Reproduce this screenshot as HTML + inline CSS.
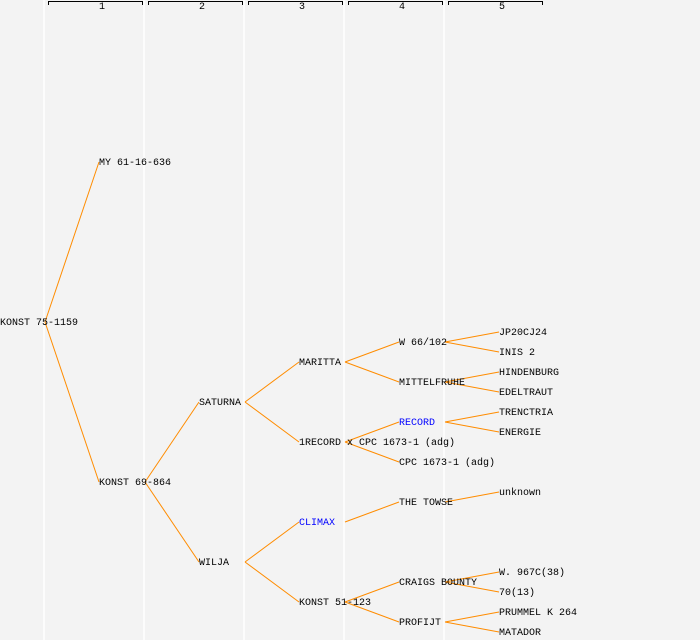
<!DOCTYPE html>
<html><head><style>
html,body{margin:0;padding:0;background:#f3f3f3;}
svg{display:block;}
text{font-family:"Liberation Mono","DejaVu Sans Mono",monospace;font-size:10px;fill:#000;}
</style></head><body>
<svg width="700" height="640" xmlns="http://www.w3.org/2000/svg">
<rect width="700" height="640" fill="#f3f3f3"/>
<g stroke="#fff" stroke-width="1.5">
<line x1="44" y1="0" x2="44" y2="640"/><line x1="144" y1="0" x2="144" y2="640"/>
<line x1="244" y1="0" x2="244" y2="640"/><line x1="344" y1="0" x2="344" y2="640"/>
<line x1="444" y1="0" x2="444" y2="640"/>
</g>
<g stroke="#000" stroke-width="1" fill="none">
<path d="M48.5 5V1.5H142.5V5"/><path d="M148.5 5V1.5H242.5V5"/><path d="M248.5 5V1.5H342.5V5"/><path d="M348.5 5V1.5H442.5V5"/><path d="M448.5 5V1.5H542.5V5"/>
</g>
<g style="font-size:8px" text-anchor="middle">
<text x="102" y="9">1</text><text x="202" y="9">2</text><text x="302" y="9">3</text><text x="402" y="9">4</text><text x="502" y="9">5</text>
</g>
<g stroke="#ff8c00" stroke-width="1" fill="none">
<line x1="45" y1="322" x2="99" y2="162"/><line x1="45" y1="322" x2="99" y2="482"/>
<line x1="145" y1="482" x2="199" y2="402"/><line x1="145" y1="482" x2="199" y2="562"/>
<line x1="245" y1="402" x2="299" y2="362"/><line x1="245" y1="402" x2="299" y2="442"/>
<line x1="245" y1="562" x2="299" y2="522"/><line x1="245" y1="562" x2="299" y2="602"/>
<line x1="345" y1="362" x2="399" y2="342"/><line x1="345" y1="362" x2="399" y2="382"/>
<line x1="345" y1="442" x2="399" y2="422"/><line x1="345" y1="442" x2="399" y2="462"/>
<line x1="345" y1="522" x2="399" y2="502"/>
<line x1="345" y1="602" x2="399" y2="582"/><line x1="345" y1="602" x2="399" y2="622"/>
<line x1="445" y1="342" x2="499" y2="332"/><line x1="445" y1="342" x2="499" y2="352"/>
<line x1="445" y1="382" x2="499" y2="372"/><line x1="445" y1="382" x2="499" y2="392"/>
<line x1="445" y1="422" x2="499" y2="412"/><line x1="445" y1="422" x2="499" y2="432"/>
<line x1="445" y1="502" x2="499" y2="492"/>
<line x1="445" y1="582" x2="499" y2="572"/><line x1="445" y1="582" x2="499" y2="592"/>
<line x1="445" y1="622" x2="499" y2="612"/><line x1="445" y1="622" x2="499" y2="632"/>
</g>
<g>
<text x="0" y="325">KONST 75-1159</text>
<text x="99" y="165">MY 61-16-636</text>
<text x="99" y="485">KONST 69-864</text>
<text x="199" y="405">SATURNA</text>
<text x="199" y="565">WILJA</text>
<text x="299" y="365">MARITTA</text>
<text x="299" y="445">1RECORD x CPC 1673-1 (adg)</text>
<text x="299" y="525" style="fill:#0000ff">CLIMAX</text>
<text x="299" y="605">KONST 51-123</text>
<text x="399" y="345">W 66/102</text>
<text x="399" y="385">MITTELFRUHE</text>
<text x="399" y="425" style="fill:#0000ff">RECORD</text>
<text x="399" y="465">CPC 1673-1 (adg)</text>
<text x="399" y="505">THE TOWSE</text>
<text x="399" y="585">CRAIGS BOUNTY</text>
<text x="399" y="625">PROFIJT</text>
<text x="499" y="335">JP20CJ24</text>
<text x="499" y="355">INIS 2</text>
<text x="499" y="375">HINDENBURG</text>
<text x="499" y="395">EDELTRAUT</text>
<text x="499" y="415">TRENCTRIA</text>
<text x="499" y="435">ENERGIE</text>
<text x="499" y="495">unknown</text>
<text x="499" y="575">W. 967C(38)</text>
<text x="499" y="595">70(13)</text>
<text x="499" y="615">PRUMMEL K 264</text>
<text x="499" y="635">MATADOR</text>
</g>
</svg>
</body></html>
